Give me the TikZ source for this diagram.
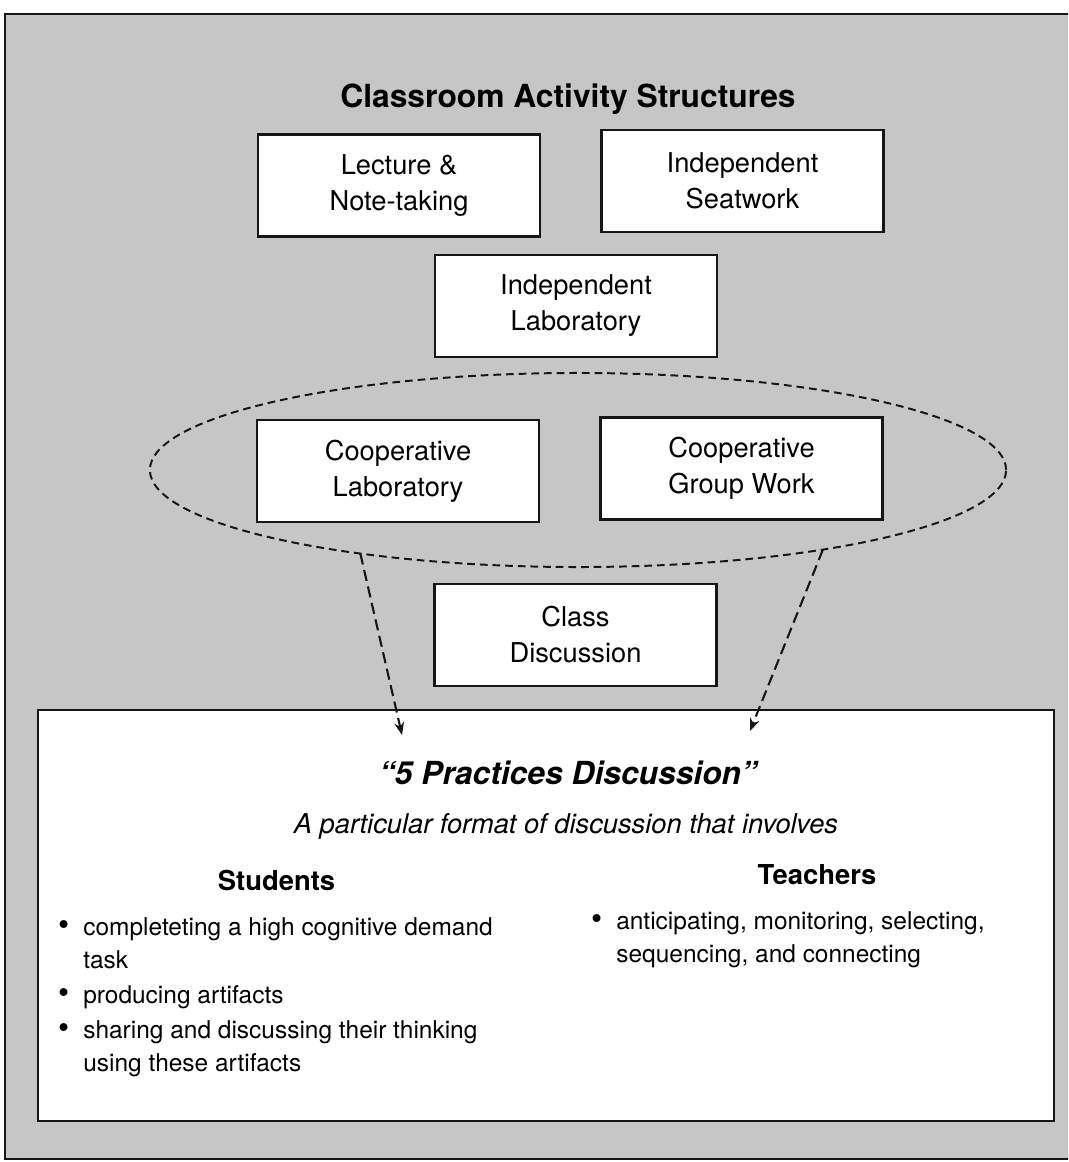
\documentclass[tikz,border=0pt]{standalone}
\usepackage{fontspec}
\setmainfont{TeX Gyre Heros}
\usetikzlibrary{shapes.geometric, arrows.meta, positioning}
\definecolor{scangray}{RGB}{198,198,198}
\definecolor{inkblack}{RGB}{22,22,22}
\newcommand{\titlefont}{\fontsize{22.6}{28}\selectfont}
\newcommand{\boxfont}{\fontsize{19.4}{25.6}\selectfont}
\newcommand{\headfont}{\fontsize{19.5}{25.6}\selectfont}
\newcommand{\listfont}{\fontsize{17.4}{22.8}\selectfont}
\newcommand{\dotmark}{\llap{\scalebox{1.3}{\textbullet}\hspace{10pt}}}
\tikzset{
  actbox/.style={rectangle, draw=inkblack, fill=white, line width=2pt,
    minimum width=7.05cm, minimum height=2.55cm, align=center,
    font=\boxfont, inner sep=0pt},
  grouping/.style={ellipse, draw=inkblack, dash pattern=on 5.5pt off 3.5pt,
    line width=1.4pt, minimum width=21.4cm, minimum height=4.85cm,
    inner sep=0pt, outer sep=0pt},
  dasharrow/.style={-{Stealth[length=9pt,width=7pt,inset=3pt]}, line width=1.5pt,
    dash pattern=on 8pt off 4pt, color=inkblack},
  colhead/.style={font=\headfont\bfseries, anchor=base},
  % anchored at the baseline of the last line
  bullettext/.style={font=\listfont, anchor=base west, align=left, inner sep=0pt}
}
\begin{document}
\begin{tikzpicture}[x=0.025cm, y=-0.025cm]
  \useasboundingbox (0,0) rectangle (1068,1162);
  \clip (0,0) rectangle (1068,1162);
  \fill[white] (0,0) rectangle (1068,1162);

  % grey ground of the page frame
  \draw[fill=scangray, draw=inkblack, line width=1.4pt] (5,14) rectangle (1090,1159);

  % heading
  \node[font=\titlefont\bfseries, anchor=base] (title) at (568,108) {Classroom Activity Structures};

  % activity structures
  \node[actbox] (lecture) at (399,185.5) {Lecture \&\\Note-taking};
  \node[actbox] (seatwork) at (742.5,181) {Independent\\Seatwork};
  \node[actbox] (indlab) at (576,306) {Independent\\Laboratory};

  % cooperative pair, ringed
  \node[grouping] (coop) at (578,470) {};
  \node[actbox] (cooplab) at (398,471) {Cooperative\\Laboratory};
  \node[actbox] (coopwork) at (741.5,468.5) {Cooperative\\Group Work};

  \node[actbox] (classdisc) at (575.5,635) {Class\\Discussion};

  % discussion format panel
  \node[draw=inkblack, fill=white, line width=1.7pt, minimum width=25.4cm,
    minimum height=10.275cm, inner sep=0pt] (practice) at (546,915.5) {};
  \node[font=\titlefont\bfseries\itshape, anchor=base] (fivep) at (568,784) {``5 Practices Discussion''};
  \node[font=\boxfont\itshape, anchor=base] (formatline) at (566,833) {A particular format of discussion that involves};

  \node[colhead] (students) at (276.5,890) {Students};
  \node[colhead] (teachers) at (817,884) {Teachers};

  \node[bullettext] (stu1) at (83,968) {\dotmark completeting a high cognitive demand\\task};
  \node[bullettext] (stu2) at (83,1003) {\dotmark producing artifacts};
  \node[bullettext] (stu3) at (83,1071) {\dotmark sharing and discussing their thinking\\using these artifacts};
  \node[bullettext] (tea1) at (616,962) {\dotmark anticipating, monitoring, selecting,\\sequencing, and connecting};

  % links from the ring down into the panel
  \coordinate (tipL) at (402,735);
  \coordinate (tipR) at (750,731);
  \draw[dasharrow] (coop.201) -- (tipL);
  \draw[dasharrow] (coop.342) -- (tipR);
\end{tikzpicture}
\end{document}
